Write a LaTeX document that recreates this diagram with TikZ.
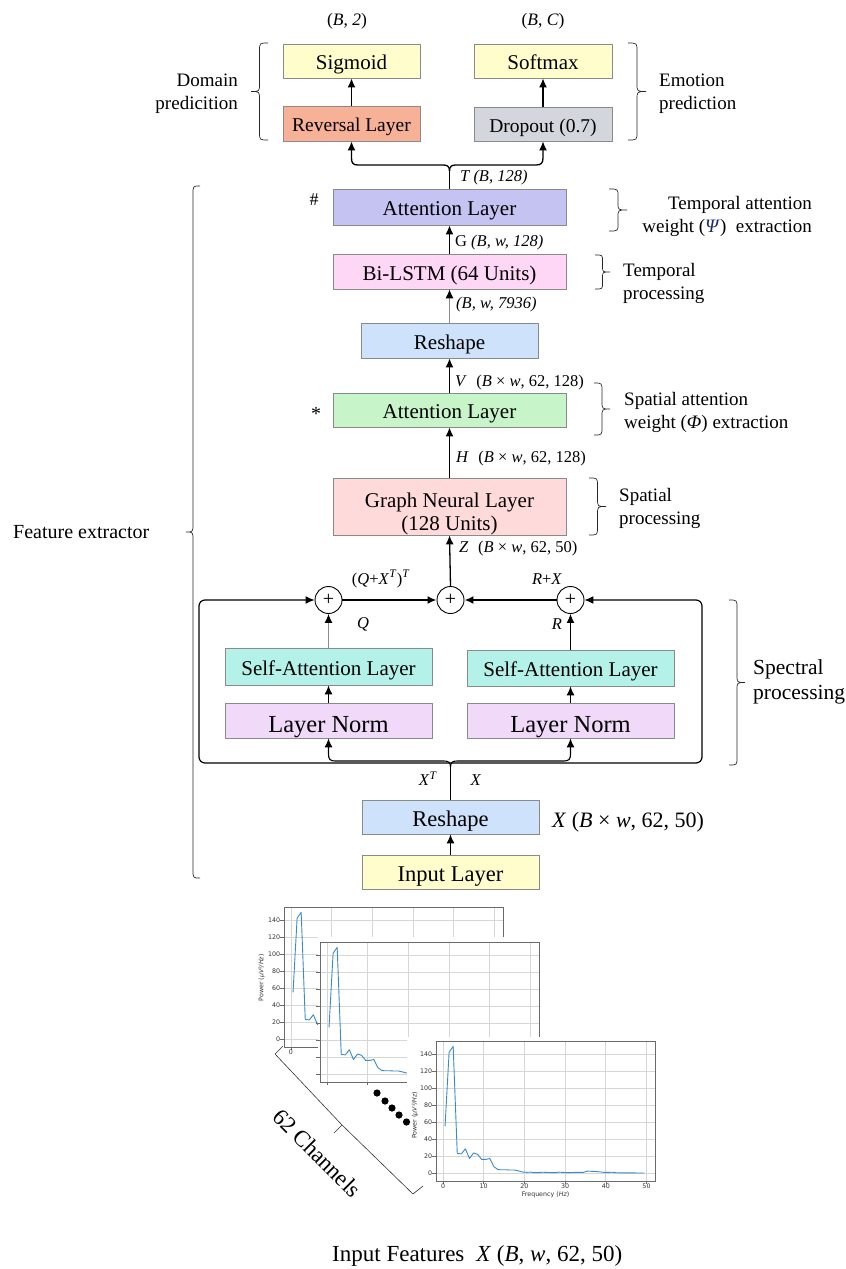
\documentclass[tikz,border=0pt]{standalone}
\usepackage{fontspec}
\setmainfont{Liberation Serif}
\newfontfamily\plotfont{DejaVu Sans}
\usetikzlibrary{arrows.meta,calc}

\definecolor{cyel}{HTML}{FFFDCB}
\definecolor{crev}{HTML}{F6B196}
\definecolor{cdrop}{HTML}{D3D6DD}
\definecolor{catttwo}{HTML}{C4C3F1}
\definecolor{clstm}{HTML}{FFD7F6}
\definecolor{cresh}{HTML}{CFE2FB}
\definecolor{cattone}{HTML}{C7F4C9}
\definecolor{cgnn}{HTML}{FFDADA}
\definecolor{csa}{HTML}{B4F1E9}
\definecolor{cln}{HTML}{F1D9FA}
\definecolor{cbord}{HTML}{8A8A8A}
\definecolor{cdata}{HTML}{3C8AC8}
\definecolor{cgrid}{HTML}{D6D6D6}
\definecolor{cframe}{HTML}{6A6A6A}
\definecolor{cpsi}{HTML}{1E2A6E}
\definecolor{ctick}{HTML}{333333}

\newcommand\fsz[2]{\fontsize{#1}{#2}\selectfont}

% vertical curly brace: #1 x at ends, #2 x at tip, #3 top (px), #4 bottom (px)
\newcommand\vbrace[4]{%
  \pgfmathsetmacro\bxm{(#1+#2)/2}%
  \pgfmathsetmacro\bym{-(#3+#4)/2}%
  \pgfmathsetmacro\byt{-#3}%
  \pgfmathsetmacro\byb{-#4}%
  \pgfmathsetmacro\bc{min(8,(#4-#3)/6)}%
  \draw[brcline] (#1,\byt) .. controls (\bxm,\byt) .. (\bxm,\byt-\bc) -- (\bxm,\bym+\bc)
     .. controls (\bxm,\bym) .. (#2,\bym) .. controls (\bxm,\bym) .. (\bxm,\bym-\bc)
     -- (\bxm,\byb+\bc) .. controls (\bxm,\byb) .. (#1,\byb);%
}

\newcommand\specline{\draw[cdata, line width=0.9pt, line join=round] (0.5,55) -- (1.5,142) -- (2.5,149) -- (3.5,23) -- (4.5,22.5) -- (5.5,28.5) -- (6.5,17) -- (7.5,23.5) -- (8.5,22) -- (9.5,16) -- (10.5,16) -- (11.5,17) -- (12.5,7.5) -- (13.5,4) -- (14.5,3.8) -- (15.5,3.8) -- (16.5,3.5) -- (17.5,3.6) -- (18.5,2.5) -- (19.5,1.2) -- (20.5,0.8) -- (21.5,1) -- (22.5,0.5) -- (23.5,0.5) -- (24.5,0.9) -- (25.5,0.7) -- (26.5,0.5) -- (27.5,0.4) -- (28.5,1) -- (29.5,0.7) -- (30.5,0.4) -- (31.5,0.5) -- (32.5,0.8) -- (33.5,0.7) -- (34.5,0.8) -- (35.5,2.2) -- (36.5,2) -- (37.5,1.8) -- (38.5,1.4) -- (39.5,0.8) -- (40.5,0.7) -- (41.5,0.9) -- (42.5,0.3) -- (44,0.2) -- (49.5,0);}

\newcommand\specaxes{%
  \foreach \gx in {0,10,...,50} {\draw[cgrid, line width=0.8pt] (\gx,-9.4) -- (\gx,155.3);}
  \foreach \gy in {0,20,...,140} {\draw[cgrid, line width=0.8pt] (-1.7,\gy) -- (52.1,\gy);}
  \foreach \gx in {0,10,...,50} {\draw[cframe, line width=0.6pt] (\gx,-9.4) -- ++(0,-4);}
  \foreach \gy in {0,20,...,140} {\draw[cframe, line width=0.6pt] (-1.7,\gy) -- ++(-0.9,0);}
  \draw[cframe, line width=0.9pt] (-1.7,-9.4) rectangle (52.1,155.3);
}

\begin{document}
\begin{tikzpicture}[x=1pt,y=1pt,
  box/.style={draw=cbord, line width=0.8pt, inner sep=0pt, font=\fsz{21}{25}, text height=17pt, text depth=0pt},
  arr/.style={-{Latex[length=9pt,width=8pt]}, line width=1.3pt},
  grayarr/.style={-{Latex[length=9pt,width=8pt,color=black]}, line width=1pt, draw=black!45},
  lab/.style={font=\fsz{16.5}{20}, inner sep=0pt},
  side/.style={font=\fsz{19}{23}, inner sep=0pt, align=left},
  brcline/.style={line width=0.7pt, draw=black!85},
  plusn/.style={circle, draw, line width=0.9pt, fill=white, minimum size=27pt, inner sep=0pt, font=\fsz{20}{20}},
  tick/.style={font=\plotfont\fsz{6.3}{7}, text=ctick, inner sep=0pt}
]
\useasboundingbox (0,0) rectangle (846,-1269);

% ---------------- output heads ----------------
\node[lab, font=\fsz{17.5}{20}] (oa) at (347,-21) {(\textit{B}, \textit{2})};
\node[lab, font=\fsz{17.5}{20}] (ob) at (543,-21) {(\textit{B}, \textit{C})};

\node[box, fill=cyel, minimum width=137, minimum height=34] (sig) at (351.5,-61) {Sigmoid};
\node[box, fill=cyel, minimum width=138, minimum height=34] (soft) at (543,-61) {Softmax};
\node[box, fill=crev, minimum width=137, minimum height=35, font=\fsz{19.5}{23}, text height=16pt] (rev) at (351.5,-123.5) {Reversal Layer};
\node[box, fill=cdrop, minimum width=138, minimum height=34, font=\fsz{19.5}{23}, text height=16pt] (drop) at (543,-124) {Dropout (0.7)};
\draw[arr] (rev.north) -- (sig.south);
\draw[arr] (drop.north) -- (soft.south);

\vbrace{268}{251}{43}{140}
\node[side, align=right, anchor=east] (dom) at (238,-94) {Domain\\predicition};
\vbrace{628}{646}{43}{140}
\node[side, anchor=west] (emo) at (659,-94) {Emotion\\prediction};

% ---------------- feature extractor column ----------------
\node[font=\fsz{18}{20}] (hash) at (314,-200) {\#};
\node[box, fill=catttwo, minimum width=233, minimum height=36] (atttwo) at (449.5,-207) {Attention Layer};
\node[box, fill=clstm, minimum width=233, minimum height=35] (lstm) at (449.5,-271.5) {Bi-LSTM (64 Units)};
\node[box, fill=cresh, minimum width=177, minimum height=35] (rsone) at (449.5,-340.5) {Reshape};
\node[font=\fsz{20}{20}] (star) at (316,-414) {*};
\node[box, fill=cattone, minimum width=233, minimum height=34] (attone) at (449.5,-410) {Attention Layer};
\node[box, fill=cgnn, minimum width=233, minimum height=57, align=center, font=\fsz{21}{23}, text height=47pt, text depth=0pt] (gnn) at (449.5,-506.5) {Graph Neural Layer\\(128 Units)};

% fork to the two heads
\coordinate (ftop) at (449.5,-171);
\draw[line width=1.3pt] (atttwo.north) -- (ftop);
\draw[arr] (ftop) .. controls (449.5,-166) and (447,-165) .. (443,-165) -- (358,-165) .. controls (353,-165) and (351.5,-163) .. (351.5,-158) -- (rev.south);
\draw[arr] (ftop) .. controls (449.5,-166) and (452,-165) .. (456,-165) -- (536,-165) .. controls (541,-165) and (543,-163) .. (543,-158) -- (drop.south);
\node[lab, anchor=west] (tlab) at (460,-178) {\textit{T (B, 128)}};

\draw[arr] (lstm.north) -- (atttwo.south);
\node[lab, anchor=west] (glab) at (455,-243) {G \textit{(B, w, 128)}};
\draw[grayarr] (rsone.north) -- (lstm.south);
\node[lab, anchor=west] (blab) at (456,-305) {\textit{(B, w, 7936)}};
\draw[arr] (attone.north) -- (rsone.south);
\node[lab, anchor=west] (vlab) at (455,-383) {\textit{V}\,\, (\textit{B} × \textit{w}, 62, 128)};
\draw[arr] (gnn.north) -- (attone.south);
\node[lab, anchor=west] (hlab) at (456,-459) {\textit{H}\,\, (\textit{B} × \textit{w}, 62, 128)};

\vbrace{609}{627}{189}{231}
\node[side, align=right, anchor=east] (tatt) at (812,-216) {Temporal attention\\weight (\textcolor{cpsi}{\textit{Ψ}})~ extraction};
\vbrace{595}{610}{255}{289}
\node[side, anchor=west] (tproc) at (623,-283) {Temporal\\processing};
\vbrace{594}{610}{383}{435}
\node[side, anchor=west] (satt) at (624,-412) {Spatial attention\\weight (\textit{Φ}) extraction};
\vbrace{589}{606}{478}{535}
\node[side, anchor=west] (sproc) at (619,-508) {Spatial\\processing};

% ---------------- spectral block ----------------
\node[plusn] (lp) at (328.5,-600) {+};
\node[plusn] (cp) at (450.5,-600) {+};
\node[plusn] (rp) at (570.5,-600) {+};
\draw[arr] (cp.north) -- (gnn.south);
\node[lab, anchor=west] (zlab) at (459,-549) {\textit{Z}\,\, (\textit{B} × \textit{w}, 62, 50)};

\node[box, fill=csa, minimum width=207, minimum height=37] (saone) at (328.5,-666.5) {Self-Attention Layer};
\node[box, fill=csa, minimum width=207, minimum height=36] (satwo) at (570.5,-668) {Self-Attention Layer};
\node[box, fill=cln, minimum width=207, minimum height=35, font=\fsz{24.5}{28}, text height=23.5pt] (lnone) at (328.5,-720.5) {Layer Norm};
\node[box, fill=cln, minimum width=207, minimum height=35, font=\fsz{24.5}{28}, text height=23.5pt] (lntwo) at (570.5,-720.5) {Layer Norm};

\draw[line width=1.2pt, rounded corners=6pt, {Latex[length=9pt,width=8pt]}-{Latex[length=9pt,width=8pt]}]
  (lp.west) -- (199,-600) -- (199,-763) -- (702,-763) -- (702,-600) -- (rp.east);
\draw[arr, line width=2pt] (lp.east) -- (cp.west);
\draw[arr, line width=2pt] (rp.west) -- (cp.east);
\draw[grayarr] (saone.north) -- (lp.south);
\draw[arr, line width=1.1pt] (satwo.north) -- (rp.south);
\draw[arr, line width=1.1pt] (lnone.north) -- (saone.south);
\draw[arr, line width=1.1pt] (lntwo.north) -- (satwo.south);

\node[lab, anchor=center] (qxlab) at (381,-579) {(\textit{Q}+\textit{X}\textsuperscript{\textit{T}})\textsuperscript{\textit{T}}};
\node[lab] (rxlab) at (547,-579) {\textit{R}+\textit{X}};
\node[lab] (qlab) at (363,-624) {\textit{Q}};
\node[lab] (rlab) at (557,-624) {\textit{R}};

\vbrace{729}{745}{600}{765}
\node[side, anchor=west, font=\fsz{21.5}{25}] (spec) at (753,-682) {Spectral\\processing};

% ---------------- input ----------------
\node[box, fill=cresh, minimum width=177, minimum height=34, font=\fsz{22.5}{26}, text height=18.5pt] (rstwo) at (450.5,-817) {Reshape};
\node[box, fill=cyel, minimum width=177, minimum height=34, font=\fsz{22.5}{26}, text height=18.5pt] (inp) at (450.5,-872) {Input Layer};
\draw[arr, line width=1.1pt] (inp.north) -- (rstwo.south);
\node[anchor=west, inner sep=0pt, font=\fsz{22}{24}] (xlab) at (552,-822) {\textit{X} (\textit{B} × \textit{w}, 62, 50)};

\coordinate (fbot) at (450.5,-767);
\draw[line width=1.3pt] (rstwo.north) -- (fbot);
\draw[arr, line width=1.1pt] (fbot) .. controls (450.5,-762) and (448,-761) .. (444,-761) -- (335,-761) .. controls (330,-761) and (328.5,-759) .. (328.5,-754) -- (lnone.south);
\draw[arr, line width=1.1pt] (fbot) .. controls (450.5,-762) and (453,-761) .. (457,-761) -- (564,-761) .. controls (569,-761) and (570.5,-759) .. (570.5,-754) -- (lntwo.south);
\node[lab] (xtlab) at (428,-779) {\textit{X}\textsuperscript{\textit{T}}};
\node[lab] (xxlab) at (476,-780) {\textit{X}};

\vbrace{200}{186}{186}{878}
\node[side, anchor=west, font=\fsz{20}{23}] (fe) at (13,-532) {Feature extractor};

% ---------------- spectra plots ----------------
\begin{scope}[shift={(291,-1039)}, x=4.07pt, y=0.85pt]
  \specaxes
  \specline
  \foreach \gy in {0,20,...,140} {\node[tick, anchor=east] (pay\gy) at (-2.6,\gy) {\gy};}
  \node[tick, anchor=north] (pax) at (0,-12.5) {0};
  \node[tick, rotate=90] (payl) at (-7.2,72) {Power (\textit{μV²/Hz})};
\end{scope}
\begin{scope}[shift={(327,-1074)}, x=4.07pt, y=0.85pt]
  \fill[white] (-2.2,-14) rectangle (53.6,161);
  \specaxes
  \specline
\end{scope}
\begin{scope}[shift={(443,-1173)}, x=4.07pt, y=0.85pt]
  \fill[white] (-8.85,-37.6) rectangle (54.5,160);
  \specaxes
  \specline
  \foreach \gy in {0,20,...,140} {\node[tick, anchor=east] (pcy\gy) at (-2.6,\gy) {\gy};}
  \foreach \gx in {0,10,...,50} {\node[tick] (pcx\gx) at (\gx,-15.3) {\gx};}
  \node[tick] (pcxl) at (25.2,-26) {Frequency (\textit{Hz})};
  \node[tick, rotate=90] (pcyl) at (-6.9,68) {Power (\textit{μV²/Hz})};
\end{scope}

\foreach \dx/\dy in {377/1093, 385/1101, 392/1108, 399/1115, 406.5/1122} {\fill (\dx,-\dy) circle (3.6);}

\draw[line width=0.6pt, black!80, line join=round] (283,-1046) -- (275,-1054) -- (342,-1125) -- (413,-1194) -- (423,-1186);
\draw[line width=0.6pt, black!80] (342,-1125) -- (334,-1133);
\node[rotate=-45, font=\fsz{23}{25}, inner sep=0pt] (chan) at (317,-1153) {62 Channels};

\node[anchor=west, inner sep=0pt, font=\fsz{23}{25}] (infeat) at (332,-1256) {Input Features\hspace{12pt}\textit{X} (\textit{B}, \textit{w}, 62, 50)};

\end{tikzpicture}
\end{document}
